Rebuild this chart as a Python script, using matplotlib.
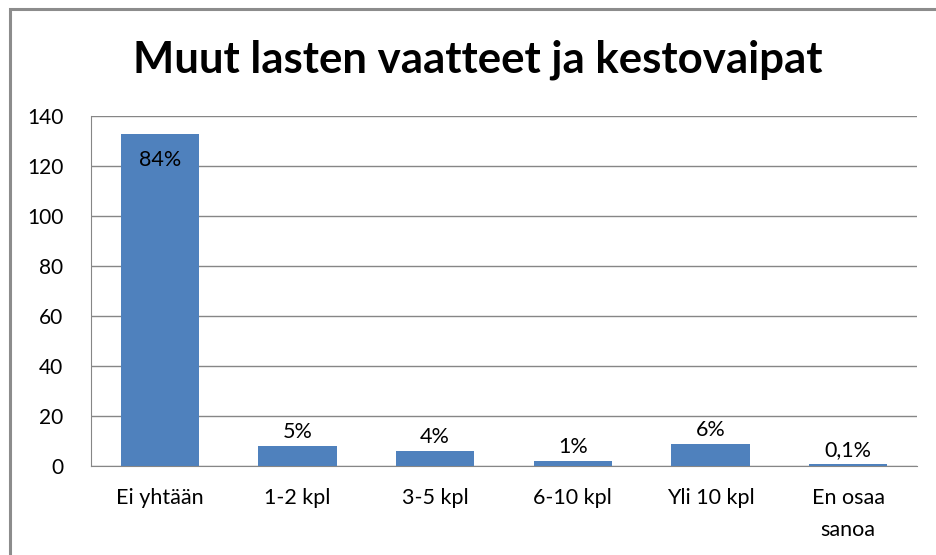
import matplotlib.pyplot as plt
from matplotlib.patches import Rectangle

plt.rcParams['font.family'] = ['Lato', 'DejaVu Sans']

categories = ['Ei yhtään', '1-2 kpl', '3-5 kpl', '6-10 kpl', 'Yli 10 kpl', 'En osaa\nsanoa']
counts = [133, 8, 6, 2, 9, 1]
pct_labels = ['84%', '5%', '4%', '1%', '6%', '0,1%']
yticks = [0, 20, 40, 60, 80, 100, 120, 140]

bar_color = '#4F81BD'
grid_color = '#868686'

fig = plt.figure(figsize=(9.37, 5.55), dpi=100)

# outer chart frame (only top and left edge visible in the picture)
fig.patches.append(Rectangle((10/937, -0.1), 1.2, 1 - 9/555 + 0.1, transform=fig.transFigure,
                             fill=False, edgecolor='#8c8c8c', linewidth=2.2))

ax = fig.add_axes([91/937, 1 - 466/555, (917 - 91)/937, (466 - 116)/555])

x = range(len(categories))
bars = ax.bar(x, counts, width=0.57, color=bar_color, zorder=3)

for i, (b, lab) in enumerate(zip(bars, pct_labels)):
    h = b.get_height()
    if h > 50:
        ax.text(b.get_x() + b.get_width()/2, h - 6.5, lab, ha='center', va='top', fontsize=15.5)
    else:
        ax.text(b.get_x() + b.get_width()/2, h + 1.5, lab, ha='center', va='bottom', fontsize=15.5)

ax.set_ylim(0, 140)
ax.set_xlim(-0.5, len(categories) - 0.5)
ax.set_yticks(yticks)
ax.set_xticks(list(x))
ax.set_xticklabels(categories, fontsize=15.5, linespacing=1.75)
ax.tick_params(axis='y', labelsize=15, length=0, pad=20)
ax.tick_params(axis='x', length=0, pad=16)
ax.yaxis.grid(True, color=grid_color, linewidth=1)
ax.set_axisbelow(True)

for s in ['top', 'right']:
    ax.spines[s].set_visible(False)
ax.spines['left'].set_color(grid_color)
ax.spines['bottom'].set_color(grid_color)

fig.text(478/937, 1 - 60/555, 'Muut lasten vaatteet ja kestovaipat', ha='center', va='center',
         fontsize=31.5, fontweight='bold')

fig.savefig('out.png', dpi=100)
